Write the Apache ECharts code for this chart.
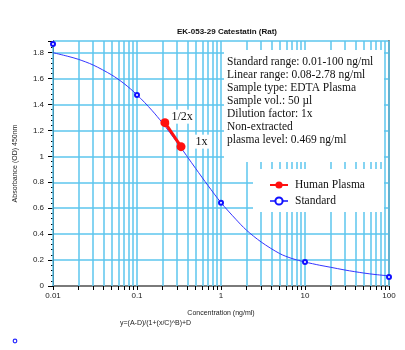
<!DOCTYPE html>
<html>
<head>
<meta charset="utf-8">
<script src="https://cdn.jsdelivr.net/npm/echarts@6/dist/echarts.min.js"></script>
<style>
  html, body { margin: 0; padding: 0; background: #fff; }
  #chart { width: 405px; height: 350px; }
</style>
</head>
<body>
<div id="chart"></div>
<script>
// Fitted standard curve (concentration in ng/ml, absorbance OD 450nm)
const curveConc = [0.01, 0.015, 0.02, 0.03, 0.05, 0.07, 0.1, 0.15, 0.2, 0.3, 0.5, 0.7, 1, 1.5, 2, 3, 5, 7, 10, 15, 20, 30, 50, 70, 100];
const curveAbs  = [1.80, 1.772, 1.749, 1.705, 1.628, 1.562, 1.475, 1.356, 1.259, 1.108, 0.906, 0.775, 0.643, 0.515, 0.432, 0.34, 0.25, 0.212, 0.185, 0.16, 0.145, 0.123, 0.1, 0.088, 0.078];

// Standards
const stdConc = [0.01, 0.1, 1, 10, 100];
const stdAbs  = [1.867, 1.474, 0.643, 0.186, 0.07];

// Human plasma dilutions
const plasmaNames = ['1/2x', '1x'];
const plasmaConc  = [0.215, 0.334];
const plasmaAbs   = [1.26, 1.075];

// Log-axis ticks / vertical grid lines
const xTickValues = [0.01, 0.02, 0.03, 0.04, 0.05, 0.06, 0.07, 0.08, 0.09,
                     0.1, 0.2, 0.3, 0.4, 0.5, 0.6, 0.7, 0.8, 0.9,
                     1, 2, 3, 4, 5, 6, 7, 8, 9,
                     10, 20, 30, 40, 50, 60, 70, 80, 90, 100];

const infoLines = [
  'Standard range: 0.01-100 ng/ml',
  'Linear range: 0.08-2.78 ng/ml',
  'Sample type: EDTA Plasma',
  'Sample vol.: 50 \u00b5l',
  'Dilution factor: 1x',
  'Non-extracted',
  'plasma level: 0.469 ng/ml'
];

const GRID_BLUE = '#5cc6ee';
const SANS = '"Liberation Sans", Arial, sans-serif';
const SERIF = '"Liberation Serif", "Times New Roman", serif';

const chart = echarts.init(document.getElementById('chart'), null, { renderer: 'canvas' });

const option = {
  animation: false,
  backgroundColor: '#ffffff',
  title: {
    text: 'EK-053-29 Catestatin (Rat)',
    left: 222, top: 23, textAlign: 'center',
    textStyle: { fontFamily: SANS, fontSize: 8, fontWeight: 'bold', color: '#111' }
  },
  grid: { left: 53, right: 16, top: 41, bottom: 64 },
  xAxis: [{
    type: 'log', logBase: 10, min: 0.01, max: 100,
    name: 'Concentration (ng/ml)', nameLocation: 'middle', nameGap: 24,
    nameTextStyle: { fontFamily: SANS, fontSize: 7, color: '#222' },
    axisLine: { show: true, lineStyle: { color: '#000', width: 1 } },
    axisTick: { show: true, length: 4, customValues: xTickValues, lineStyle: { color: '#000' } },
    axisLabel: { fontFamily: SANS, fontSize: 8, color: '#222', margin: 6 },
    splitLine: { show: false },
    minorTick: { show: false }
  }, {
    type: 'log', logBase: 10, min: 0.01, max: 100, position: 'top',
    axisLine: { show: true, lineStyle: { color: '#7a7a7a', width: 2 } },
    axisTick: { show: false }, axisLabel: { show: false }, splitLine: { show: false }
  }],
  yAxis: [{
    type: 'value', min: 0, max: 1.89, interval: 0.2,
    name: 'Absorbance (OD) 450nm', nameLocation: 'middle', nameGap: 34,
    nameTextStyle: { fontFamily: SANS, fontSize: 7, color: '#222' },
    axisLine: { show: true, lineStyle: { color: '#000', width: 1 } },
    axisTick: { show: true, length: 5, lineStyle: { color: '#000' } },
    minorTick: { show: true, splitNumber: 5, length: 2, lineStyle: { color: '#000' } },
    axisLabel: { fontFamily: SANS, fontSize: 8, color: '#222', margin: 9, showMaxLabel: false },
    splitLine: { show: true, lineStyle: { color: GRID_BLUE, width: 1.5 } }
  }, {
    type: 'value', min: 0, max: 1.89, position: 'right',
    axisLine: { show: true, lineStyle: { color: '#7a7a7a', width: 2 } },
    axisTick: { show: false }, axisLabel: { show: false }, splitLine: { show: false }
  }],
  legend: {
    orient: 'vertical', left: 264, top: 174,
    itemWidth: 18, itemHeight: 9, itemGap: 4,
    textStyle: { fontFamily: SERIF, fontSize: 11.5, color: '#111', padding: [0, 0, 0, 2] },
    data: [
      { name: 'Human Plasma' },
      { name: 'Standard', lineStyle: { width: 1.5, color: '#1010ff' } }
    ]
  },
  graphic: [
    // white panel behind the assay information
    { type: 'rect', z: 2, silent: true, shape: { x: 224, y: 50, width: 160, height: 112 }, style: { fill: '#fff' } },
    // white panel behind the legend
    { type: 'rect', z: 2, silent: true, shape: { x: 253, y: 169, width: 131, height: 43 }, style: { fill: '#fff' } },
    {
      type: 'text', z: 10, left: 227, top: 55,
      style: { text: infoLines.join('\n'), font: '11.5px ' + SERIF, lineHeight: 13, fill: '#111' }
    },
    {
      type: 'text', z: 10, left: 120, top: 320,
      style: { text: 'y=(A-D)/(1+(x/C)^B)+D', font: '7px ' + SANS, fill: '#222' }
    },
    {
      type: 'circle', z: 10, shape: { cx: 15, cy: 341, r: 1.8 },
      style: { fill: '#fff', stroke: '#2a2aff', lineWidth: 1.2 }
    }
  ],
  series: [
    {
      // vertical log grid lines
      name: 'gridlines', type: 'line', data: [], z: 1, silent: true,
      markLine: {
        z: 1, silent: true, symbol: 'none', animation: false,
        label: { show: false },
        lineStyle: { color: GRID_BLUE, width: 1.5, type: 'solid' },
        data: xTickValues.map(v => ({ xAxis: v }))
      }
    },
    {
      name: 'curve', type: 'line', z: 3, smooth: 0.3, showSymbol: false, symbol: 'none',
      clip: false, silent: true,
      lineStyle: { color: '#3535ff', width: 1 },
      data: curveConc.map((c, i) => [c, curveAbs[i]])
    },
    {
      name: 'Standard', type: 'line', z: 4, clip: false,
      symbol: 'emptyCircle', symbolSize: 4,
      itemStyle: { color: '#1010ff', borderWidth: 1.1 },
      lineStyle: { width: 0, color: '#1010ff' },
      data: stdConc.map((c, i) => [c, stdAbs[i]])
    },
    {
      name: 'Human Plasma', type: 'line', z: 5, clip: false,
      symbol: 'circle', symbolSize: 9,
      itemStyle: { color: '#ff1010' },
      lineStyle: { color: '#ff1010', width: 3 },
      label: {
        show: true, position: 'right', fontFamily: SERIF, fontSize: 12, color: '#111',
        backgroundColor: '#fff', padding: [1, 2],
        formatter: p => plasmaNames[p.dataIndex]
      },
      data: plasmaConc.map((c, i) => ({
        value: [c, plasmaAbs[i]],
        label: { offset: i === 0 ? [-5, -6] : [3, -5] }
      }))
    }
  ]
};

chart.setOption(option);
</script>
</body>
</html>
